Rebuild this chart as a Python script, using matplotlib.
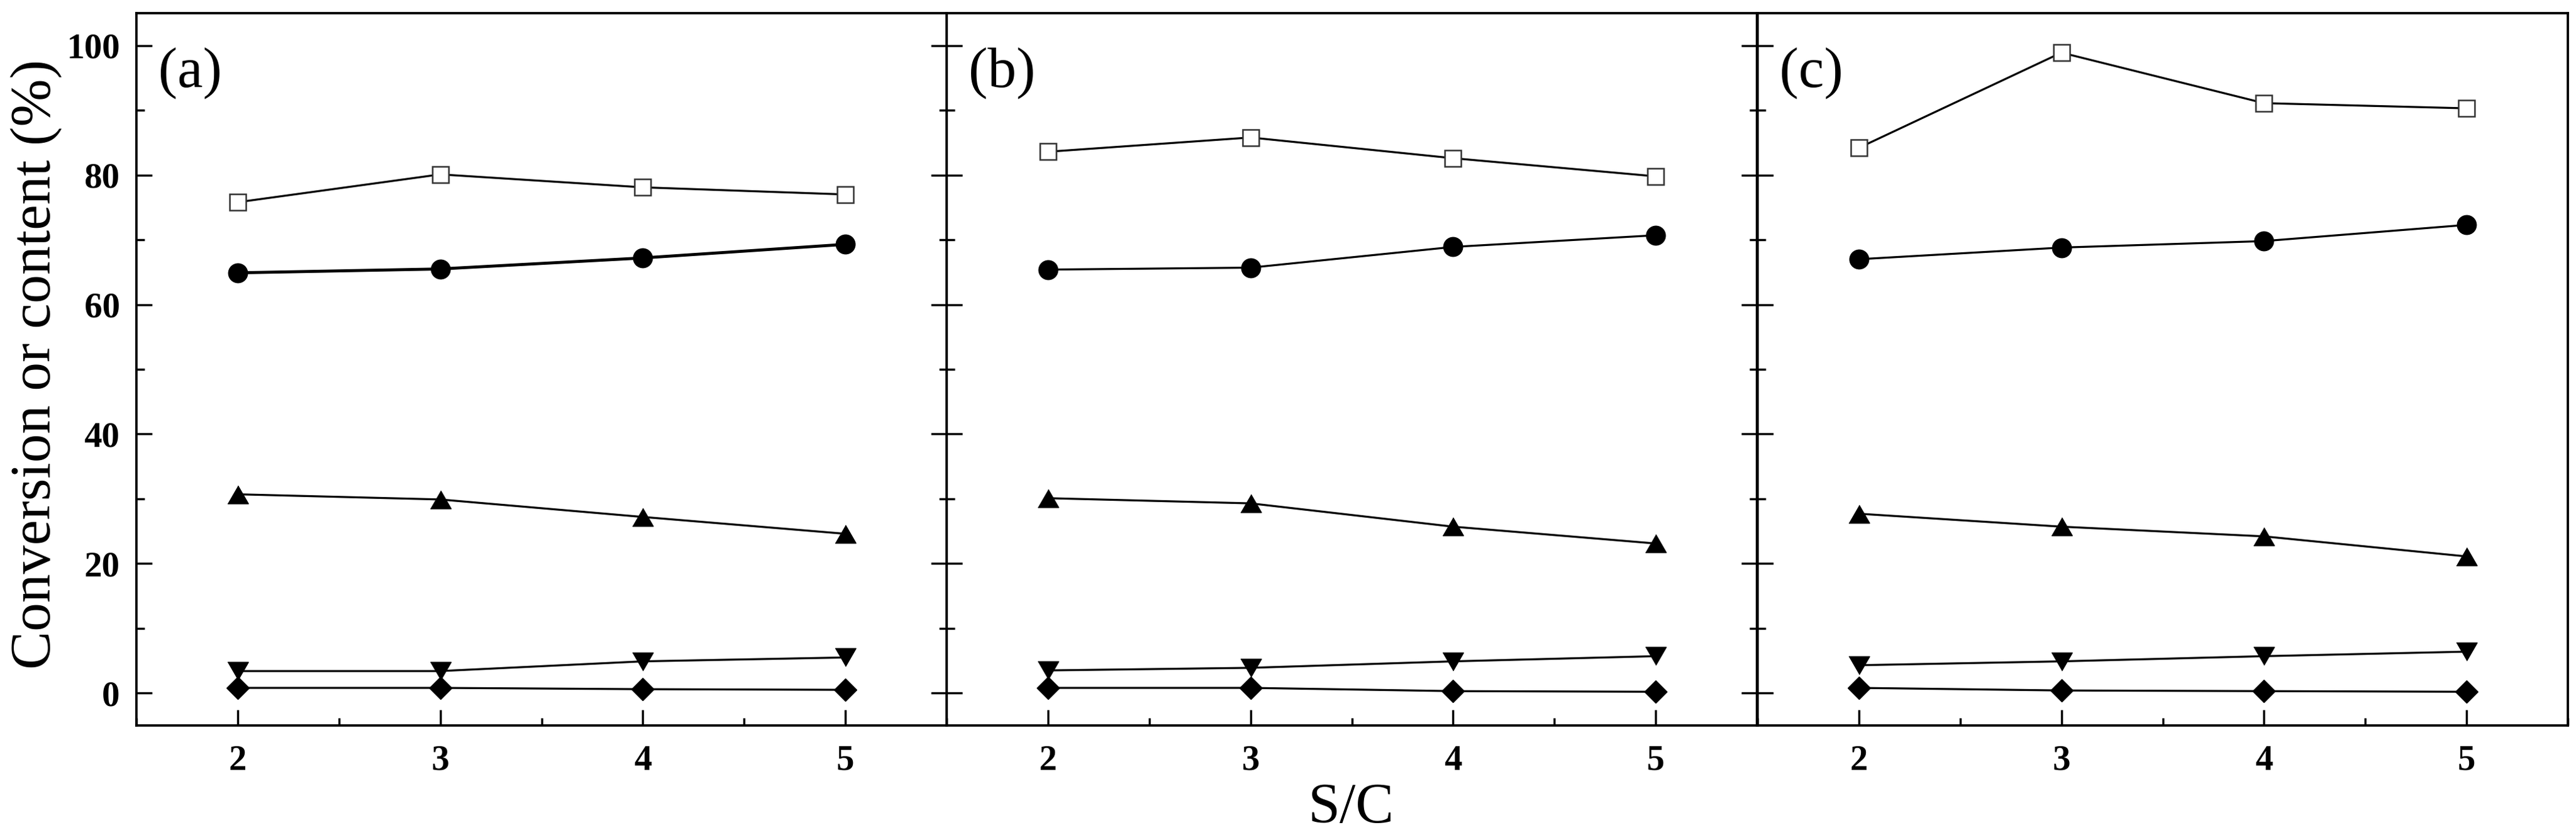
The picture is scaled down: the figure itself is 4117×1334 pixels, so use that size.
import matplotlib
matplotlib.use("Agg")
import matplotlib.pyplot as plt
from matplotlib.ticker import MultipleLocator, FixedLocator

plt.rcParams['font.family'] = ['Liberation Serif', 'DejaVu Serif']
plt.rcParams['mathtext.fontset'] = 'stix'

# ---- data ----
sc = [2, 3, 4, 5]
panel_labels = ['(a)', '(b)', '(c)']

a_square = [75.8, 80.1, 78.1, 77.0]
a_circle = [64.9, 65.5, 67.2, 69.3]
a_up = [30.7, 29.9, 27.2, 24.6]
a_down = [3.4, 3.4, 4.9, 5.5]
a_diamond = [0.8, 0.8, 0.6, 0.5]

b_square = [83.6, 85.8, 82.6, 79.8]
b_circle = [65.4, 65.7, 68.9, 70.7]
b_up = [30.1, 29.3, 25.7, 23.1]
b_down = [3.5, 3.9, 4.9, 5.7]
b_diamond = [0.8, 0.8, 0.3, 0.2]

c_square = [84.2, 98.9, 91.1, 90.3]
c_circle = [67.0, 68.8, 69.8, 72.3]
c_up = [27.7, 25.7, 24.2, 21.1]
c_down = [4.3, 4.9, 5.7, 6.4]
c_diamond = [0.8, 0.4, 0.3, 0.2]

yticks = [0, 20, 40, 60, 80, 100]
xticks = [2, 3, 4, 5]

panels = [
    (a_square, a_circle, a_up, a_down, a_diamond),
    (b_square, b_circle, b_up, b_down, b_diamond),
    (c_square, c_circle, c_up, c_down, c_diamond),
]

# ---- figure ----
W, H = 4117, 1334
fig = plt.figure(figsize=(W / 100, H / 100), dpi=100)

left_px = [218, 1513, 2809]
width_px = 1295
top_px, bottom_px = 21, 1159

tri_up = [(-1, -0.866), (1, -0.866), (0, 0.866)]
tri_down = [(-1, 0.866), (1, 0.866), (0, -0.866)]

lw = 2.3
spine_w = 2.7

for i, (sq, ci, up, dn, di) in enumerate(panels):
    ax = fig.add_axes([left_px[i] / W, 1 - bottom_px / H,
                       width_px / W, (bottom_px - top_px) / H])
    ax.plot(sc, sq, color='black', lw=lw, marker='s', ms=18.7,
            mfc='white', mec='#333333', mew=1.8, zorder=3)
    ax.plot(sc, ci, color='black', lw=lw * (1.5 if i == 0 else 1.0),
            marker='o', ms=22, mfc='black', mec='black', zorder=3)
    ax.plot(sc, up, color='black', lw=lw, marker=tri_up, ms=24,
            mfc='black', mec='black', zorder=3)
    ax.plot(sc, dn, color='black', lw=lw, marker=tri_down, ms=24,
            mfc='black', mec='black', zorder=3)
    ax.plot(sc, di, color='black', lw=lw, marker='D', ms=18.6,
            mfc='black', mec='black', zorder=3)

    ax.set_xlim(1.5, 5.5)
    ax.set_ylim(-5, 105)
    ax.xaxis.set_major_locator(FixedLocator(xticks))
    ax.xaxis.set_minor_locator(MultipleLocator(0.5))
    ax.yaxis.set_major_locator(FixedLocator(yticks))
    ax.yaxis.set_minor_locator(MultipleLocator(10))

    for s in ax.spines.values():
        s.set_linewidth(spine_w)

    ax.tick_params(axis='both', which='both', direction='in', width=2.5,
                   top=False, right=(i < 2))
    ax.tick_params(axis='both', which='major', length=18)
    ax.tick_params(axis='both', which='minor', length=9)
    ax.tick_params(axis='x', which='major', pad=22)
    ax.tick_params(axis='y', which='major', pad=19)

    for lab in ax.get_xticklabels():
        lab.set_fontsize(41)
        lab.set_fontweight('bold')
    if i == 0:
        ax.set_yticklabels([str(v) for v in yticks], fontsize=41,
                           fontweight='bold')
    else:
        ax.set_yticklabels([])

    ax.text(0.027, 0.952, panel_labels[i], transform=ax.transAxes,
            fontsize=66, ha='left', va='top')

fig.text(58 / W, 1 - 582 / H, 'Conversion or content (%)', fontsize=66,
         rotation=90, ha='center', va='center')
fig.text(2160 / W, 1 - 1292 / H, 'S/C', fontsize=66, ha='center',
         va='center')

fig.savefig('out.png', dpi=100)
